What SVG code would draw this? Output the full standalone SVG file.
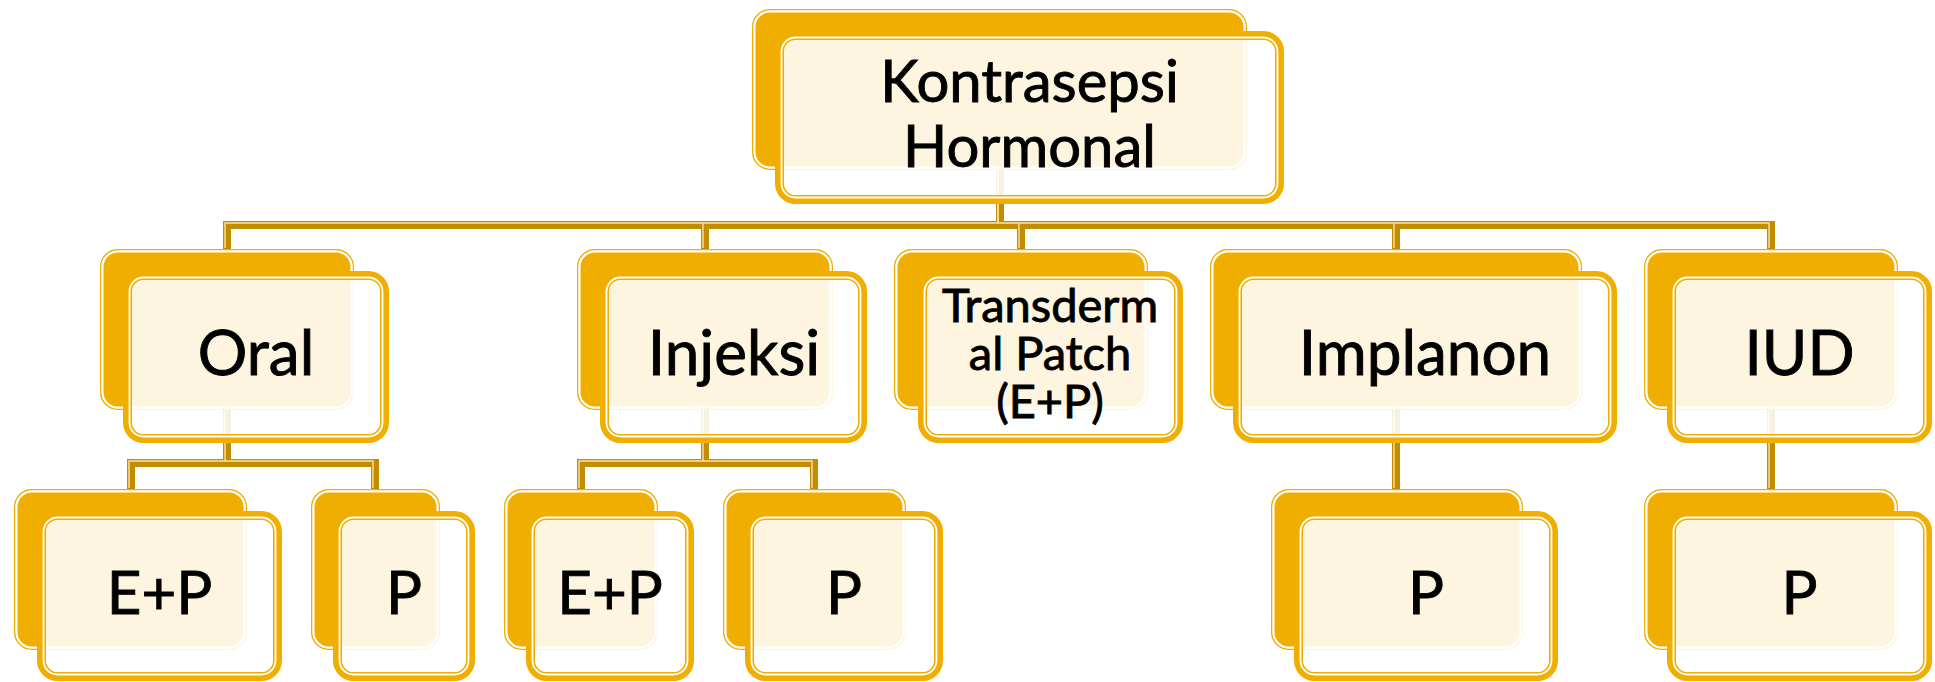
<svg xmlns="http://www.w3.org/2000/svg" width="1935" height="682" viewBox="0 0 1935 682">
<style>
.bo{fill:none;stroke:#F0AE00;stroke-width:1.5}
.bk{fill:#F0AE00;stroke:#FFFFFF;stroke-width:2}
.fr{fill:#FFFFFF;fill-opacity:0.88;stroke:#F0AE00;stroke-width:9}
.fw{fill:none;stroke:#FFFFFF;stroke-width:1.8}
.t{font-family:Lato,"Noto Sans","DejaVu Sans",sans-serif;fill:#000000;stroke:#000000;stroke-width:0.9;text-anchor:middle}
.cn{fill:none;stroke:#C48C00;stroke-width:8}
.ch{fill:none;stroke:#FBE3A0;stroke-width:1.4}
</style>
<rect width="1935" height="682" fill="#FFFFFF"/>
<g id="connectors">
<g class="cn">
<path d="M1000,150V225H227V250"/>
<path d="M1000,150V225H705V250"/>
<path d="M1000,150V225H1021V250"/>
<path d="M1000,150V225H1396V250"/>
<path d="M1000,150V225H1771V250"/>
<path d="M227,395V463H131V490"/>
<path d="M227,395V463H375V490"/>
<path d="M705,395V463H581V490"/>
<path d="M705,395V463H814V490"/>
<path d="M1396,395V490"/>
<path d="M1771,395V490"/>
</g>
<g class="ch" transform="translate(-2,-2)">
<path d="M1000,150V225H227V250"/>
<path d="M1000,150V225H1771V250"/>
<path d="M1021,225V250"/>
<path d="M705,225V250"/>
<path d="M1396,225V250"/>
<path d="M227,395V463H131V490"/>
<path d="M227,463H375V490"/>
<path d="M705,395V463H581V490"/>
<path d="M705,463H814V490"/>
<path d="M1396,395V490"/>
<path d="M1771,395V490"/>
</g>
</g>
<g id="root">
<rect class="bo" x="752.75" y="9.75" width="493.5" height="159.5" rx="17"/>
<rect class="bk" x="754.5" y="11.5" width="490" height="156" rx="15.5"/>
<rect class="fr" x="779.5" y="35.5" width="500" height="164" rx="16"/>
<rect class="fw" x="781.5" y="37.5" width="496" height="160" rx="14"/>
<text class="t" x="1029.5" y="102" font-size="58">Kontrasepsi</text>
<text class="t" x="1029.5" y="167" font-size="58">Hormonal</text>
</g>
<g id="oral">
<rect class="bo" x="100.75" y="249.75" width="252.5" height="159.5" rx="17"/>
<rect class="bk" x="102.5" y="251.5" width="249" height="156" rx="15.5"/>
<rect class="fr" x="127.5" y="275.5" width="257" height="163" rx="16"/>
<rect class="fw" x="129.5" y="277.5" width="253" height="159" rx="14"/>
<text class="t" x="256" y="375" font-size="62">Oral</text>
</g>
<g id="injeksi">
<rect class="bo" x="577.75" y="249.75" width="254.5" height="159.5" rx="17"/>
<rect class="bk" x="579.5" y="251.5" width="251" height="156" rx="15.5"/>
<rect class="fr" x="604.5" y="275.5" width="258" height="163" rx="16"/>
<rect class="fw" x="606.5" y="277.5" width="254" height="159" rx="14"/>
<text class="t" x="734" y="375" font-size="62">Injeksi</text>
</g>
<g id="transdermal">
<rect class="bo" x="894.75" y="249.75" width="252.5" height="159.5" rx="17"/>
<rect class="bk" x="896.5" y="251.5" width="249" height="156" rx="15.5"/>
<rect class="fr" x="922.5" y="275.5" width="256" height="163" rx="16"/>
<rect class="fw" x="924.5" y="277.5" width="252" height="159" rx="14"/>
<text class="t" x="1050" y="322" font-size="47">Transderm</text>
<text class="t" x="1050" y="370" font-size="47">al Patch</text>
<text class="t" x="1050" y="418" font-size="47">(E+P)</text>
</g>
<g id="implanon">
<rect class="bo" x="1210.75" y="249.75" width="370.5" height="159.5" rx="17"/>
<rect class="bk" x="1212.5" y="251.5" width="367" height="156" rx="15.5"/>
<rect class="fr" x="1237.5" y="275.5" width="375" height="163" rx="16"/>
<rect class="fw" x="1239.5" y="277.5" width="371" height="159" rx="14"/>
<text class="t" x="1425" y="375" font-size="62">Implanon</text>
</g>
<g id="iud">
<rect class="bo" x="1644.75" y="249.75" width="252.5" height="159.5" rx="17"/>
<rect class="bk" x="1646.5" y="251.5" width="249" height="156" rx="15.5"/>
<rect class="fr" x="1671.5" y="275.5" width="256" height="163" rx="16"/>
<rect class="fw" x="1673.5" y="277.5" width="252" height="159" rx="14"/>
<text class="t" x="1799.5" y="375" font-size="62">IUD</text>
</g>
<g id="oral-ep">
<rect class="bo" x="14.75" y="489.75" width="231.5" height="159.5" rx="17"/>
<rect class="bk" x="16.5" y="491.5" width="228" height="156" rx="15.5"/>
<rect class="fr" x="41.5" y="515.5" width="236" height="161" rx="16"/>
<rect class="fw" x="43.5" y="517.5" width="232" height="157" rx="14"/>
<text class="t" x="159.5" y="614" font-size="60">E+P</text>
</g>
<g id="oral-p">
<rect class="bo" x="311.75" y="489.75" width="127.5" height="159.5" rx="17"/>
<rect class="bk" x="313.5" y="491.5" width="124" height="156" rx="15.5"/>
<rect class="fr" x="337.5" y="515.5" width="133" height="161" rx="16"/>
<rect class="fw" x="339.5" y="517.5" width="129" height="157" rx="14"/>
<text class="t" x="404" y="614" font-size="60">P</text>
</g>
<g id="injeksi-ep">
<rect class="bo" x="504.75" y="489.75" width="152.5" height="159.5" rx="17"/>
<rect class="bk" x="506.5" y="491.5" width="149" height="156" rx="15.5"/>
<rect class="fr" x="530.5" y="515.5" width="159" height="161" rx="16"/>
<rect class="fw" x="532.5" y="517.5" width="155" height="157" rx="14"/>
<text class="t" x="610" y="614" font-size="60">E+P</text>
</g>
<g id="injeksi-p">
<rect class="bo" x="723.75" y="489.75" width="181.5" height="159.5" rx="17"/>
<rect class="bk" x="725.5" y="491.5" width="178" height="156" rx="15.5"/>
<rect class="fr" x="749.5" y="515.5" width="189" height="161" rx="16"/>
<rect class="fw" x="751.5" y="517.5" width="185" height="157" rx="14"/>
<text class="t" x="844" y="614" font-size="60">P</text>
</g>
<g id="implanon-p">
<rect class="bo" x="1271.75" y="489.75" width="250.5" height="159.5" rx="17"/>
<rect class="bk" x="1273.5" y="491.5" width="247" height="156" rx="15.5"/>
<rect class="fr" x="1298.5" y="515.5" width="255" height="161" rx="16"/>
<rect class="fw" x="1300.5" y="517.5" width="251" height="157" rx="14"/>
<text class="t" x="1426" y="614" font-size="60">P</text>
</g>
<g id="iud-p">
<rect class="bo" x="1644.75" y="489.75" width="252.5" height="159.5" rx="17"/>
<rect class="bk" x="1646.5" y="491.5" width="249" height="156" rx="15.5"/>
<rect class="fr" x="1671.5" y="515.5" width="256" height="161" rx="16"/>
<rect class="fw" x="1673.5" y="517.5" width="252" height="157" rx="14"/>
<text class="t" x="1799.5" y="614" font-size="60">P</text>
</g>
</svg>
